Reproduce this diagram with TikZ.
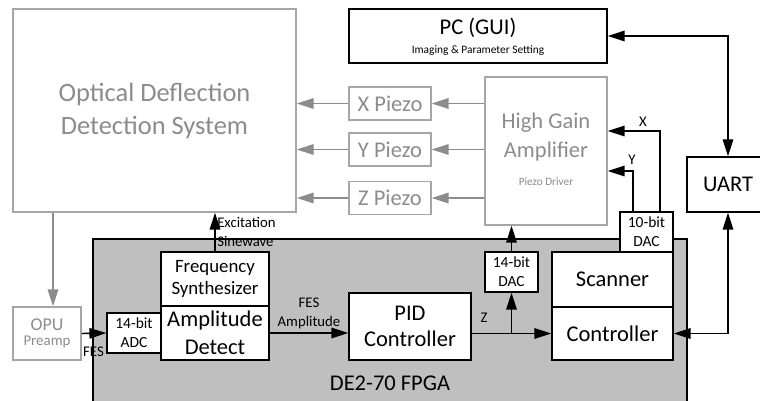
\documentclass[tikz,border=0pt]{standalone}
\usepackage{fontspec}
\setmainfont{Carlito}
\usetikzlibrary{arrows.meta}
\definecolor{fpgagray}{HTML}{BFBFBF}
\definecolor{paleline}{HTML}{A6A6A6}
\definecolor{paletext}{HTML}{8C8C8C}
\newcommand{\fsz}[2]{\fontsize{#1}{#2}\selectfont}
\begin{document}
\begin{tikzpicture}[x=0.025cm, y=-0.025cm,
    blk/.style={draw, line width=1pt, fill=white, inner sep=0pt, align=center},
    pale/.style={draw=paleline, line width=1pt, fill=white, text=paletext, inner sep=0pt, align=center},
    sig/.style={line width=1pt, -{Triangle[length=12pt,width=7.5pt]}},
    biw/.style={line width=1pt, {Triangle[length=12pt,width=7.5pt]}-{Triangle[length=12pt,width=7.5pt]}},
    gsig/.style={draw=paletext, line width=1pt, -{Triangle[length=12pt,width=7.5pt]}},
    lbl/.style={inner sep=0pt, align=center, font=\fsz{10.5}{13.5}}]
  \useasboundingbox (0,0) rectangle (760,400);
  \clip (0,0) rectangle (760,400);

  % FPGA board
  \node[blk, fill=fpgagray, minimum width=14.85cm, minimum height=4.275cm] (fpga) at (390,324.5) {};
  \node[inner sep=0pt, font=\fsz{16}{19}] (fpgalbl) at (390,383) {DE2-70 FPGA};

  % optical side
  \node[pale, minimum width=7.075cm, minimum height=5.075cm, font=\fsz{18.8}{23.5}] (opt) at (154.5,110.5)
        {Optical Deflection\\Detection System};
  \node[pale, minimum width=2.05cm, minimum height=0.825cm, font=\fsz{16}{19}] (xp) at (390,103.5) {X Piezo};
  \node[pale, minimum width=2.05cm, minimum height=0.825cm, font=\fsz{16}{19}] (yp) at (390,149.5) {Y Piezo};
  \node[pale, minimum width=2.05cm, minimum height=0.825cm, font=\fsz{16}{19}] (zp) at (390,198) {Z Piezo};
  \node[pale, minimum width=3.05cm, minimum height=3.7cm] (hga) at (546,151) {};
  \node[inner sep=0pt, align=center, text=paletext, font=\fsz{16}{20}] (hgatxt) at (546,137) {High Gain\\Amplifier};
  \node[inner sep=0pt, text=paletext, font=\fsz{8}{10}] (hgasub) at (546,182) {Piezo Driver};
  \node[pale, minimum width=1.7cm, minimum height=1.325cm] (opu) at (47,333.5)
        {{\fsz{12.8}{15}OPU}\\[-1pt]{\fsz{10.6}{13}Preamp}};

  % PC and UART
  \node[blk, minimum width=6.45cm, minimum height=1.35cm] (pc) at (478,36) {};
  \node[inner sep=0pt, font=\fsz{16}{19}] (pctxt) at (478,28) {PC (GUI)};
  \node[inner sep=0pt, font=\fsz{8.1}{10}] (pcsub) at (478,51) {Imaging \& Parameter Setting};
  \node[blk, minimum width=2.05cm, minimum height=1.375cm, font=\fsz{16}{19}] (uart) at (728,184.5) {UART};

  % FPGA blocks
  \node[blk, minimum width=1.35cm, minimum height=1cm, font=\fsz{11}{13.7}] (adc) at (134,333) {14-bit\\ADC};
  \node[blk, minimum width=2.7cm, minimum height=1.35cm, font=\fsz{13.4}{15.4}] (fsyn) at (215,279)
        {Frequency\\Synthesizer};
  \node[blk, minimum width=2.7cm, minimum height=1.35cm, font=\fsz{16}{19.7}] (amp) at (215,333)
        {Amplitude\\Detect};
  \node[blk, minimum width=3.05cm, minimum height=1.675cm, font=\fsz{16}{18.5}] (pid) at (410,326.5)
        {PID\\Controller};
  \node[blk, minimum width=1.325cm, minimum height=1cm, font=\fsz{11}{13.7}] (dac14) at (511.5,272) {14-bit\\DAC};
  \node[blk, minimum width=3.025cm, minimum height=1.375cm, font=\fsz{16}{19}] (scn) at (612.5,279.5) {Scanner};
  \node[blk, minimum width=3.025cm, minimum height=1.325cm, font=\fsz{16}{19}] (ctl) at (612.5,333.5) {Controller};
  \node[blk, minimum width=1.325cm, minimum height=1cm, font=\fsz{11}{13.7}] (dac10) at (646.5,232) {10-bit\\DAC};

  % optical paths
  \draw[gsig] ([xshift=0.15cm]opu.north |- opt.south) -- ([xshift=0.15cm]opu.north);
  \foreach \p in {xp,yp,zp} {
    \draw[gsig] (hga.west |- \p) -- (\p.east);
    \draw[gsig] (\p.west) -- (opt.east |- \p);
  }

  % signal paths
  \draw[sig] (fsyn.north) -- (fsyn.north |- opt.south);
  \draw[sig] (opu.east) -- (adc.west);
  \draw[sig] (amp.east) -- (amp.east -| pid.west);
  \coordinate (zsplit) at (dac14.south |- ctl.west);
  \draw[sig] (pid.east |- ctl.west) -- (ctl.west);
  \draw[sig] (zsplit) -- (dac14.south);
  \draw[sig] (dac14.north) -- (dac14.north |- hga.south);
  \draw[sig] ([xshift=0.3375cm]dac10.north) |- ([yshift=0.5cm]hga.east);
  \draw[sig] ([xshift=-0.3375cm]dac10.north) |- ([yshift=-0.5cm]hga.east);
  \draw[biw] (pc.east) -| (uart.north);
  \draw[biw] (ctl.east) -| (uart.south);

  % labels
  \node[lbl] (xlbl) at (643,122) {X};
  \node[lbl] (ylbl) at (632,160) {Y};
  \node[lbl] (zlbl) at (484,318) {Z};
  \node[lbl] (feslbl) at (93.5,352) {FES};
  \node[lbl] (ampl) at (309,313) {FES\\Amplitude};
  \node[lbl, align=left, anchor=west] (exclbl) at (217,232) {Excitation\\Sinewave};
\end{tikzpicture}
\end{document}
